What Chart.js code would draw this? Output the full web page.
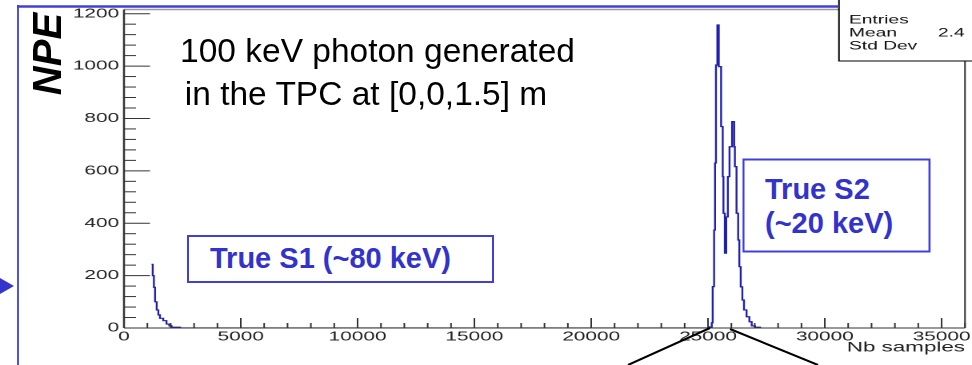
<!DOCTYPE html>
<html>
<head>
<meta charset="utf-8">
<script src="https://cdn.jsdelivr.net/npm/chart.js@4.4.1/dist/chart.umd.min.js"></script>
<style>
  html, body { margin: 0; padding: 0; background: #fff; width: 972px; height: 365px; overflow: hidden; }
  #plot { position: absolute; left: 0; top: 0; width: 620px; height: 365px; transform: scaleX(1.6); transform-origin: 0 0; }
  #slide { position: absolute; left: 0; top: 0; font-family: 'Liberation Sans', Arial, sans-serif; }
</style>
</head>
<body>
<div id="plot"><canvas id="npeChart"></canvas></div>
<svg id="slide" width="972" height="365" xmlns="http://www.w3.org/2000/svg">
  <line x1="18" y1="5" x2="18" y2="365" stroke="#5252e0" stroke-width="2"/>
  <line x1="17" y1="6.5" x2="838" y2="6.5" stroke="#4040d8" stroke-width="2.5"/>
  <polygon points="0,278 14,286 0,294" fill="#3535cc"/>
  <line x1="710" y1="328" x2="628" y2="365" stroke="#000" stroke-width="2"/>
  <line x1="730" y1="329" x2="818" y2="365" stroke="#000" stroke-width="2"/>
  <text x="377.5" y="61.5" text-anchor="middle" font-size="33.5" fill="#000">100 keV photon generated</text>
  <text x="366" y="105" text-anchor="middle" font-size="33.5" fill="#000">in the TPC at [0,0,1.5] m</text>
  <text transform="translate(61,54) rotate(-90)" text-anchor="middle" font-size="40" font-weight="bold" font-style="italic" fill="#000">NPE</text>
  <rect x="188" y="236" width="305" height="46" fill="#fff" stroke="#4040d8" stroke-width="2"/>
  <text x="210" y="268" font-size="29" font-weight="bold" fill="#3333cc">True S1 (~80 keV)</text>
  <rect x="743.5" y="159.5" width="186" height="92" fill="#fff" stroke="#4040d8" stroke-width="2"/>
  <text x="765" y="199" font-size="29" font-weight="bold" fill="#3333cc">True S2</text>
  <text x="765" y="233" font-size="29" font-weight="bold" fill="#3333cc">(~20 keV)</text>
</svg>
<script>
// the ROOT picture was pasted stretched sideways, so the canvas is drawn narrow and scaled
const STRETCH = 1.6;
const PLOT_W = 620;

const xMax = 36000;
const yMax = 1216;
const xTickValues = [0, 5000, 10000, 15000, 20000, 25000, 30000, 35000];
const yTickValues = [0, 200, 400, 600, 800, 1000, 1200];

// S1 pulse (bin left edges, NPE)
const s1Samples = [1180, 1230, 1280, 1330, 1400, 1470, 1540, 1680, 1820, 1940, 2040, 2400];
const s1Npe = [243, 200, 155, 100, 69, 50, 37, 28, 15, 8, 3, 0];

// S2 pulse
const s2Samples = [25000, 25060, 25160, 25200, 25260, 25300, 25340, 25400, 25460, 25560,
    25630, 25660, 25720, 25780, 25850, 25920, 26030, 26120, 26150, 26220,
    26290, 26340, 26400, 26470, 26540, 26650, 26770, 26870, 27010, 27230];
const s2Npe = [0, 4, 20, 158, 374, 630, 1004, 1157, 998, 769,
    578, 438, 286, 424, 578, 692, 788, 692, 616, 438,
    336, 234, 157, 107, 69, 43, 24, 8, 3, 0];

const statsLabels = ['Entries', 'Mean', 'Std Dev'];
const statsValues = ['', '2.4', ''];

const histData = s1Samples.map((s, i) => ({ x: s, y: s1Npe[i] }))
    .concat(s2Samples.map((s, i) => ({ x: s, y: s2Npe[i] })));

Chart.defaults.font.family = "'Liberation Sans', Arial, sans-serif";

const rootFrame = {
    id: 'rootFrame',
    afterDatasetsDraw(chart) {
        const { ctx, chartArea: a, scales: { x, y } } = chart;
        ctx.save();
        ctx.strokeStyle = '#333';
        ctx.lineWidth = 1;
        // ticks point inwards, like ROOT
        for (let v = 0; v <= yMax; v += 40) {
            const py = y.getPixelForValue(v);
            const len = (v % 200 === 0 ? 26 : 12) / STRETCH;
            ctx.beginPath();
            ctx.moveTo(a.left, py);
            ctx.lineTo(a.left + len, py);
            ctx.stroke();
        }
        for (let v = 0; v <= xMax; v += 1000) {
            const px = x.getPixelForValue(v);
            const len = v % 5000 === 0 ? 10 : 5;
            ctx.beginPath();
            ctx.moveTo(px, a.bottom);
            ctx.lineTo(px, a.bottom - len);
            ctx.stroke();
        }
        // frame
        ctx.strokeStyle = '#999';
        ctx.lineWidth = 1.5;
        ctx.beginPath();
        ctx.moveTo(a.left, a.top);
        ctx.lineTo(a.right, a.top);
        ctx.stroke();
        ctx.strokeStyle = '#333';
        ctx.lineWidth = 1;
        ctx.beginPath();
        ctx.moveTo(a.left, a.bottom);
        ctx.lineTo(a.right, a.bottom);
        ctx.moveTo(a.right, a.top);
        ctx.lineTo(a.right, a.bottom);
        ctx.stroke();
        ctx.lineWidth = 1.25;
        ctx.beginPath();
        ctx.moveTo(a.left, a.top);
        ctx.lineTo(a.left, a.bottom);
        ctx.stroke();

        // stats box
        const bx = 839 / STRETCH;
        ctx.fillStyle = '#fff';
        ctx.fillRect(bx, -5, PLOT_W, 66);
        ctx.strokeStyle = '#000';
        ctx.lineWidth = 1;
        ctx.strokeRect(bx, -5, PLOT_W, 66);
        ctx.fillStyle = '#111';
        ctx.font = "12px 'Liberation Sans', Arial, sans-serif";
        ctx.textBaseline = 'alphabetic';
        statsLabels.forEach((lab, i) => {
            ctx.fillText(lab, 849 / STRETCH, 23.5 + i * 13);
            if (statsValues[i]) ctx.fillText(statsValues[i], 938 / STRETCH, 23.5 + i * 13);
        });
        ctx.restore();
    }
};

new Chart(document.getElementById('npeChart'), {
    type: 'line',
    data: {
        datasets: [{
            label: 'NPE',
            data: histData,
            stepped: true,
            borderColor: '#2020b0',
            borderWidth: 1.2,
            pointRadius: 0,
            fill: false
        }]
    },
    options: {
        responsive: true,
        maintainAspectRatio: false,
        animation: false,
        devicePixelRatio: 2,
        layout: { padding: { top: 9.5, right: PLOT_W - 965 / STRETCH, left: 0, bottom: 0 } },
        plugins: { legend: { display: false }, tooltip: { enabled: false } },
        scales: {
            x: {
                type: 'linear',
                min: 0,
                max: xMax,
                grid: { display: false, drawTicks: false },
                border: { display: false },
                afterBuildTicks: s => { s.ticks = xTickValues.map(v => ({ value: v })); },
                ticks: {
                    maxRotation: 0,
                    autoSkip: false,
                    padding: 1,
                    color: '#222',
                    font: { size: 13 },
                    callback: v => String(v)
                },
                title: {
                    display: true,
                    text: 'Nb samples',
                    align: 'end',
                    color: '#222',
                    font: { size: 14 },
                    padding: { top: 0, bottom: 9 }
                },
                afterFit: s => { s.height = 37; s.paddingLeft = 0; s.paddingRight = 0; }
            },
            y: {
                type: 'linear',
                min: 0,
                max: yMax,
                grid: { display: false, drawTicks: false },
                border: { display: false },
                afterBuildTicks: s => { s.ticks = yTickValues.map(v => ({ value: v })); },
                ticks: {
                    padding: 3,
                    color: '#222',
                    font: { size: 13 },
                    callback: v => String(v)
                },
                afterFit: s => { s.width = 124 / STRETCH; s.paddingTop = 0; s.paddingBottom = 0; }
            }
        }
    },
    plugins: [rootFrame]
});
</script>
</body>
</html>
